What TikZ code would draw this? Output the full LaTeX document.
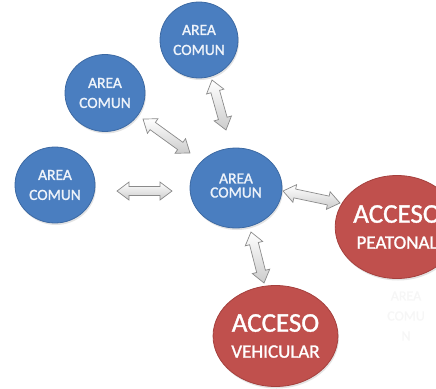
\documentclass[tikz,border=0pt]{standalone}
\usepackage{fontspec}
\setmainfont{Carlito}[FakeBold=1.3]
\usetikzlibrary{shapes.geometric,calc,shadows}
\definecolor{areablue}{HTML}{4A7EC0}
\definecolor{areablueline}{HTML}{3C69A3}
\definecolor{accred}{HTML}{C0504D}
\definecolor{accredline}{HTML}{A5403D}
\definecolor{txtblue}{HTML}{EEF3FA}
\definecolor{arrline}{HTML}{8A8A8A}
\newcommand\dblarrowbetween[2]{%
  \pgfpointdiff{\pgfpointanchor{#1}{center}}{\pgfpointanchor{#2}{center}}%
  \pgfgetlastxy{\dax}{\day}%
  \pgfmathsetmacro\dang{atan2(\day,\dax)}%
  \pgfmathsetmacro\dlen{veclen(\dax,\day)}%
  \begin{scope}[shift={(#1)}, rotate=\dang, x=1pt, y=1pt]
    \draw[arrbody] (0,0) -- (12,9) -- (12,4.5) -- (\dlen-12,4.5) -- (\dlen-12,9)
      -- (\dlen,0) -- (\dlen-12,-9) -- (\dlen-12,-4.5) -- (12,-4.5) -- (12,-9) -- cycle;
  \end{scope}}
\begin{document}
\begin{tikzpicture}[x=1pt,y=-1pt,
  blob/.style={ellipse, inner sep=0pt, line width=0.8pt, align=center,
    drop shadow={opacity=0.22, shadow xshift=1pt, shadow yshift=-2pt}},
  area/.style={blob, fill=areablue, draw=areablueline, text=txtblue,
    font=\fontsize{15.5}{20}\selectfont},
  acc/.style={blob, fill=accred, draw=accredline, text=white,
    font=\fontsize{19}{26}\selectfont},
  arrbody/.style={top color=white, bottom color=gray!40, draw=arrline,
    line width=0.7pt, line join=miter},
  faint/.style={text=gray!7, font=\fontsize{14}{20}\selectfont, align=center}
]
\useasboundingbox (0,0) rectangle (436,388);
\clip (0,0) rectangle (436,388);

\node[area, minimum width=78pt, minimum height=76pt] (T) at (199,40) {AREA\\COMUN};
\node[area, minimum width=80pt, minimum height=77pt] (UL) at (105,93) {AREA\\COMUN};
\node[area, minimum width=80pt, minimum height=76pt] (L) at (55,185) {AREA\\COMUN};
\node[area, minimum width=92pt, minimum height=80pt] (C) at (236,188) {\raisebox{5pt}{\shortstack{AREA\\[1pt]COMUN}}};

\node[acc, minimum width=104pt, minimum height=103pt] (P) at (397,227)
  {{\fontsize{27}{26}\selectfont ACCESO}\\{PEATONAL}};
\node[acc, minimum width=105pt, minimum height=101pt] (V) at (275.5,336)
  {{\fontsize{27}{26}\selectfont ACCESO}\\{VEHICULAR}};

\node[faint] (F) at (406,316) {AREA\\COMU\\N};

\coordinate (t1) at (212,80);  \coordinate (t2) at (226,130);
\coordinate (u1) at (143,119); \coordinate (u2) at (190,153);
\coordinate (l1) at (117,191); \coordinate (l2) at (172,191);
\coordinate (p1) at (283,191); \coordinate (p2) at (340,203);
\coordinate (v1) at (251,232); \coordinate (v2) at (264,283);

\dblarrowbetween{t1}{t2}
\dblarrowbetween{u1}{u2}
\dblarrowbetween{l1}{l2}
\dblarrowbetween{p1}{p2}
\dblarrowbetween{v1}{v2}
\end{tikzpicture}
\end{document}
